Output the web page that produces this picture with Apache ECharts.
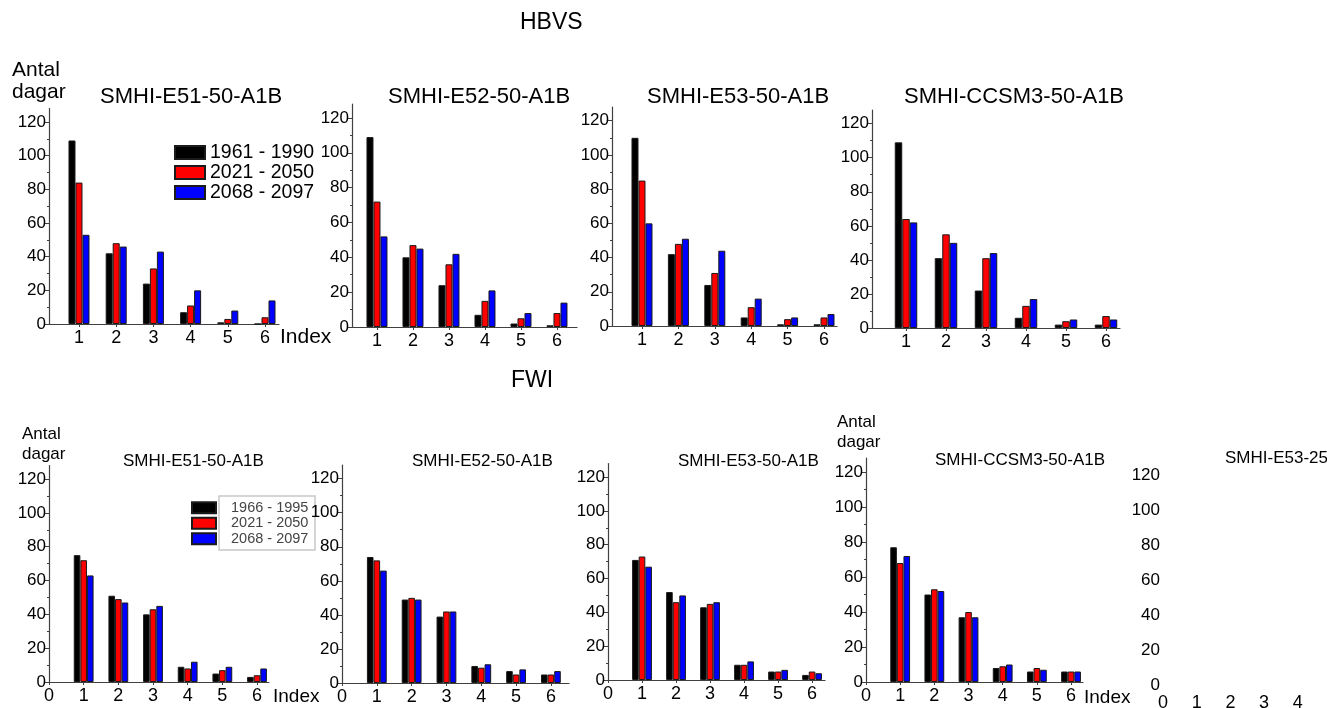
<!DOCTYPE html>
<html>
<head>
<meta charset="utf-8">
<script src="https://cdn.jsdelivr.net/npm/echarts@6/dist/echarts.min.js"></script>
<style>
html,body{margin:0;padding:0;background:#fff;}
#chart{width:1327px;height:708px;}
</style>
</head>
<body>
<div id="chart"></div>
<script>
// ---------- data ----------
const indexValues = [1, 2, 3, 4, 5, 6];
const topXTicks = [1, 2, 3, 4, 5, 6];
const bottomXTicks = [0, 1, 2, 3, 4, 5, 6];
const yTicks = [0, 20, 40, 60, 80, 100, 120];

const hbvsPeriods = ['1961 - 1990', '2021 - 2050', '2068 - 2097'];
const fwiPeriods = ['1966 - 1995', '2021 - 2050', '2068 - 2097'];

const hbvsModels = ['SMHI-E51-50-A1B', 'SMHI-E52-50-A1B', 'SMHI-E53-50-A1B', 'SMHI-CCSM3-50-A1B'];
const fwiModels = ['SMHI-E51-50-A1B', 'SMHI-E52-50-A1B', 'SMHI-E53-50-A1B', 'SMHI-CCSM3-50-A1B', 'SMHI-E53-25'];

const hbvs_E51_ref = [109, 42, 24, 7, 1, 0];
const hbvs_E51_mid = [84, 48, 33, 11, 3, 4];
const hbvs_E51_end = [53, 46, 43, 20, 8, 14];
const hbvs_E52_ref = [109, 40, 24, 7, 2, 1];
const hbvs_E52_mid = [72, 47, 36, 15, 5, 8];
const hbvs_E52_end = [52, 45, 42, 21, 8, 14];
const hbvs_E53_ref = [110, 42, 24, 5, 1, 1];
const hbvs_E53_mid = [85, 48, 31, 11, 4, 5];
const hbvs_E53_end = [60, 51, 44, 16, 5, 7];
const hbvs_CCSM3_ref = [109, 41, 22, 6, 2, 2];
const hbvs_CCSM3_mid = [64, 55, 41, 13, 4, 7];
const hbvs_CCSM3_end = [62, 50, 44, 17, 5, 5];

const fwi_E51_ref = [75, 51, 40, 9, 5, 3];
const fwi_E51_mid = [72, 49, 43, 8, 7, 4];
const fwi_E51_end = [63, 47, 45, 12, 9, 8];
const fwi_E52_ref = [74, 49, 39, 10, 7, 5];
const fwi_E52_mid = [72, 50, 42, 9, 5, 5];
const fwi_E52_end = [66, 49, 42, 11, 8, 7];
const fwi_E53_ref = [71, 52, 43, 9, 5, 3];
const fwi_E53_mid = [73, 46, 45, 9, 5, 5];
const fwi_E53_end = [67, 50, 46, 11, 6, 4];
const fwi_CCSM3_ref = [77, 50, 37, 8, 6, 6];
const fwi_CCSM3_mid = [68, 53, 40, 9, 8, 6];
const fwi_CCSM3_end = [72, 52, 37, 10, 7, 6];

// ---------- layout ----------
const FONT = "'Liberation Sans', Arial, sans-serif";
const periodColors = ['#000000', '#ff0000', '#0000ff'];

const panels = [
  // HBVS
  {left: 49,  top: 108.5, width: 230, height: 215.5, xMin: 0.194, xMax: 6.376, xt: topXTicks, bw: 7, sets: [hbvs_E51_ref, hbvs_E51_mid, hbvs_E51_end], names: hbvsPeriods, title: hbvsModels[0], tl: 100, tt: 86, tf: 22, idx: {gap: 1, pad: 3, fs: 21}},
  {left: 352, top: 104,   width: 225, height: 223,   xMin: 0.306, xMax: 6.556, xt: topXTicks, bw: 7, sets: [hbvs_E52_ref, hbvs_E52_mid, hbvs_E52_end], names: hbvsPeriods, title: hbvsModels[1], tl: 388, tt: 86, tf: 22},
  {left: 612, top: 107,   width: 225, height: 219,   xMin: 0.176, xMax: 6.357, xt: topXTicks, bw: 7, sets: [hbvs_E53_ref, hbvs_E53_mid, hbvs_E53_end], names: hbvsPeriods, title: hbvsModels[2], tl: 647, tt: 86, tf: 22},
  {left: 872, top: 110,   width: 248, height: 218,   xMin: 0.15,  xMax: 6.35,  xt: topXTicks, bw: 7.5, sets: [hbvs_CCSM3_ref, hbvs_CCSM3_mid, hbvs_CCSM3_end], names: hbvsPeriods, title: hbvsModels[3], tl: 904, tt: 86, tf: 22},
  // FWI
  {left: 49,  top: 465.5, width: 220, height: 216.5, xMin: 0, xMax: 6.346, xt: bottomXTicks, bw: 6.6, sets: [fwi_E51_ref, fwi_E51_mid, fwi_E51_end], names: fwiPeriods, title: fwiModels[0], tl: 123, tt: 453, tf: 17, idx: {gap: 4, pad: 5, fs: 19}},
  {left: 342, top: 465,   width: 227, height: 218,   xMin: 0, xMax: 6.52,  xt: bottomXTicks, bw: 6.6, sets: [fwi_E52_ref, fwi_E52_mid, fwi_E52_end], names: fwiPeriods, title: fwiModels[1], tl: 412, tt: 453, tf: 17},
  {left: 608, top: 463.5, width: 217, height: 216.5, xMin: 0, xMax: 6.38,  xt: bottomXTicks, bw: 6.6, sets: [fwi_E53_ref, fwi_E53_mid, fwi_E53_end], names: fwiPeriods, title: fwiModels[2], tl: 678, tt: 453, tf: 17},
  {left: 866, top: 458,   width: 217, height: 224,   xMin: 0, xMax: 6.35,  xt: bottomXTicks, bw: 6.6, sets: [fwi_CCSM3_ref, fwi_CCSM3_mid, fwi_CCSM3_end], names: fwiPeriods, title: fwiModels[3], tl: 935, tt: 452, tf: 17, idx: {gap: 1, pad: 6, fs: 19}},
  {left: 1163, top: 461,  width: 214, height: 224,   xMin: 0, xMax: 6.35,  xt: bottomXTicks, bw: 6.6, sets: [], names: fwiPeriods, title: fwiModels[4], tl: 1225, tt: 450, tf: 17, hidden: true}
];

const grids = [], xAxes = [], yAxes = [], series = [];
const titles = [
  {text: 'HBVS', left: 520, top: 11, padding: 0, textStyle: {fontSize: 23, fontWeight: 'normal', color: '#000', fontFamily: FONT}},
  {text: 'FWI', left: 511, top: 369, padding: 0, textStyle: {fontSize: 23, fontWeight: 'normal', color: '#000', fontFamily: FONT}},
  {text: 'Antal\ndagar', left: 12, top: 59, padding: 0, textStyle: {fontSize: 21, lineHeight: 22, fontWeight: 'normal', color: '#000', fontFamily: FONT}},
  {text: 'Antal\ndagar', left: 22, top: 424, padding: 0, textStyle: {fontSize: 17, lineHeight: 20, fontWeight: 'normal', color: '#000', fontFamily: FONT}},
  {text: 'Antal\ndagar', left: 837, top: 412, padding: 0, textStyle: {fontSize: 17, lineHeight: 20, fontWeight: 'normal', color: '#000', fontFamily: FONT}}
];

panels.forEach((p, i) => {
  grids.push({left: p.left, top: p.top, width: p.width, height: p.height, containLabel: false, outerBoundsMode: 'none'});
  const axColor = '#404040';
  xAxes.push({
    gridIndex: i, type: 'value', min: p.xMin, max: p.xMax,
    axisLine: {show: !p.hidden, lineStyle: {color: axColor, width: 1.2}},
    axisTick: {show: !p.hidden, length: 3, customValues: p.xt, lineStyle: {color: axColor}},
    axisLabel: {customValues: p.xt, fontSize: 18, margin: p.hidden ? 9 : 5, color: '#000', fontFamily: FONT},
    splitLine: {show: false},
    name: p.idx ? 'Index' : '',
    nameLocation: 'end',
    nameGap: p.idx ? p.idx.gap : 0,
    nameTextStyle: p.idx ? {fontSize: p.idx.fs, color: '#000', fontFamily: FONT, verticalAlign: 'top', align: 'left', padding: [p.idx.pad, 0, 0, 0]} : {}
  });
  yAxes.push({
    gridIndex: i, type: 'value', min: 0, max: 128, interval: 20,
    axisLine: {show: !p.hidden, lineStyle: {color: axColor, width: 1.2}},
    axisTick: {show: !p.hidden, length: 4, customValues: yTicks, lineStyle: {color: axColor}},
    minorTick: {show: !p.hidden, splitNumber: 2, length: 2, lineStyle: {color: axColor}},
    axisLabel: {customValues: yTicks, fontSize: 17, margin: 3, color: '#000', fontFamily: FONT},
    splitLine: {show: false},
    minorSplitLine: {show: false}
  });
  titles.push({text: p.title, left: p.tl, top: p.tt, padding: 0, textStyle: {fontSize: p.tf, fontWeight: 'normal', color: '#000', fontFamily: FONT}});
  p.sets.forEach((vals, k) => {
    series.push({
      name: p.names[k], type: 'bar', xAxisIndex: i, yAxisIndex: i,
      data: indexValues.map((x, j) => [x, vals[j]]),
      barWidth: p.bw, barGap: '0%',
      itemStyle: {color: periodColors[k], borderColor: '#1a1a1a', borderWidth: 1},
      emphasis: {disabled: true},
      animation: false
    });
  });
});

const option = {
  backgroundColor: '#ffffff',
  animation: false,
  title: titles,
  grid: grids,
  xAxis: xAxes,
  yAxis: yAxes,
  legend: [
    {
      data: hbvsPeriods, orient: 'vertical', left: 174, top: 142.5, padding: 0,
      itemWidth: 30, itemHeight: 13, itemGap: 0, selectedMode: false,
      icon: 'rect',
      textStyle: {fontSize: 19.5, lineHeight: 18, color: '#000', fontFamily: FONT}
    },
    {
      data: fwiPeriods, orient: 'vertical', left: 191, top: 500, padding: 0,
      itemWidth: 24, itemHeight: 11, itemGap: 0, selectedMode: false,
      icon: 'rect',
      textStyle: {fontSize: 14.5, lineHeight: 15.5, color: '#444', fontFamily: FONT, padding: [0, 0, 0, 10]}
    }
  ],
  graphic: [
    {type: 'rect', z: -1, shape: {x: 219, y: 496, width: 96, height: 54}, style: {fill: '#ffffff', stroke: '#c8c8c8', lineWidth: 1.5}}
  ],
  series: series
};

const chart = echarts.init(document.getElementById('chart'), null, {renderer: 'canvas'});
chart.setOption(option);
</script>
</body>
</html>
